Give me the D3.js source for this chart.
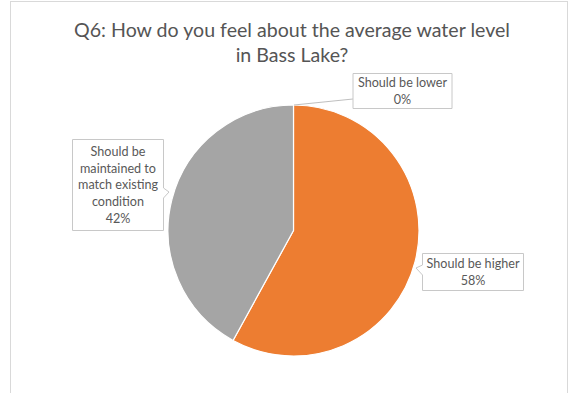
<!DOCTYPE html>
<html>
<head>
<meta charset="utf-8">
<script src="https://cdn.jsdelivr.net/npm/d3@7"></script>
<style>
  html, body { margin: 0; padding: 0; background: #ffffff; }
  svg { display: block; }
  text { font-family: Lato, "Noto Sans", sans-serif; }
</style>
</head>
<body>
<svg id="chart" width="573" height="393"></svg>
<script>
// Survey answers, in the order the slices run clockwise from 12 o'clock
const categories = ["Should be lower", "Should be higher", "Should be maintained to match existing condition"];
const values = [0, 58, 42];
// Wrapped label lines for each answer
const labelLines = [
  ["Should be lower"],
  ["Should be higher"],
  ["Should be", "maintained to", "match existing", "condition"]
];
const sliceColors = ["#4472C4", "#ED7D31", "#A5A5A5"];
const titleLines = ["Q6: How do you feel about the average water level", "in Bass Lake?"];

const W = 573, H = 393;
const svg = d3.select("#chart");

// chart area frame
svg.append("rect")
  .attr("x", 10.5).attr("y", 1.5)
  .attr("width", 557).attr("height", 400)
  .attr("fill", "#ffffff")
  .attr("stroke", "#d9d9d9").attr("stroke-width", 1);

// title
const title = svg.append("text")
  .attr("text-anchor", "middle")
  .attr("fill", "#555555")
  .attr("font-size", 19.6);
titleLines.forEach((t, i) => {
  title.append("tspan").attr("x", 292).attr("y", 37 + i * 24.5).text(t);
});

// pie
const cx = 293.5, cy = 230.5, r = 125.5;
const pie = d3.pie().sort(null).value(d => d.value);
const arc = d3.arc().innerRadius(0).outerRadius(r);
const data = categories.map((c, i) => ({ cat: c, value: values[i], color: sliceColors[i], lines: labelLines[i] }));
const arcs = pie(data);

const g = svg.append("g").attr("transform", `translate(${cx},${cy})`);
g.selectAll("path.slice")
  .data(arcs)
  .join("path")
  .attr("class", "slice")
  .attr("d", arc)
  .attr("fill", d => d.data.color)
  .attr("stroke", "#ffffff")
  .attr("stroke-width", 1.2)
  .attr("stroke-linejoin", "round");

// callout boxes: box geometry, pointer side / position, and the pie point it refers to
const callouts = [
  { x: 353, y: 73.5, w: 99, h: 35, side: "left", py: 99, tip: [294, 105], leader: true },
  { x: 422.5, y: 253.5, w: 101, h: 37, side: "left", py: 270, tip: [416, 268] },
  { x: 72.5, y: 139.5, w: 91, h: 91, side: "right", py: 193, tip: [169, 192] }
];

function calloutPath(c) {
  const { x, y, w, h } = c;
  const p = d3.path();
  const half = 5;
  if (c.side === "left" && !c.leader) {
    p.moveTo(x, y);
    p.lineTo(x + w, y);
    p.lineTo(x + w, y + h);
    p.lineTo(x, y + h);
    p.lineTo(x, c.py + half);
    p.lineTo(c.tip[0], c.tip[1]);
    p.lineTo(x, c.py - half);
    p.closePath();
  } else if (c.side === "right") {
    p.moveTo(x, y);
    p.lineTo(x + w, y);
    p.lineTo(x + w, c.py - half);
    p.lineTo(c.tip[0], c.tip[1]);
    p.lineTo(x + w, c.py + half);
    p.lineTo(x + w, y + h);
    p.lineTo(x, y + h);
    p.closePath();
  } else {
    p.rect(x, y, w, h);
  }
  return p.toString();
}

const labels = svg.append("g");
arcs.forEach((a, i) => {
  const c = callouts[i];
  if (c.leader) {
    labels.append("line")
      .attr("x1", c.x).attr("y1", c.py)
      .attr("x2", c.tip[0]).attr("y2", c.tip[1])
      .attr("stroke", "#bfbfbf").attr("stroke-width", 1);
  }
  labels.append("path")
    .attr("d", calloutPath(c))
    .attr("fill", "#ffffff")
    .attr("stroke", "#c8c8c8")
    .attr("stroke-width", 1);

  const lines = a.data.lines.concat([`${a.data.value}%`]);
  const lh = 16.8;
  const top = c.y + c.h / 2 - (lines.length - 1) * lh / 2;
  const t = labels.append("text")
    .attr("text-anchor", "middle")
    .attr("fill", "#595959")
    .attr("font-size", 12.6);
  lines.forEach((l, k) => {
    t.append("tspan")
      .attr("x", c.x + c.w / 2)
      .attr("y", top + k * lh)
      .attr("dy", "0.35em")
      .text(l);
  });
});
</script>
</body>
</html>
